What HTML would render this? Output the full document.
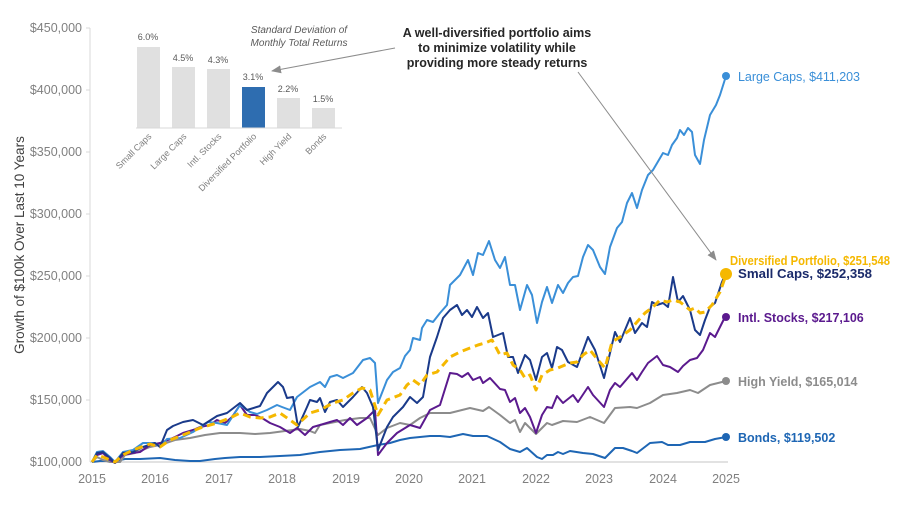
<!DOCTYPE html>
<html><head><meta charset="utf-8"><style>
html,body{margin:0;padding:0;background:#fff;}
svg{display:block;font-family:"Liberation Sans",sans-serif;}
</style></head><body>
<svg width="900" height="505" viewBox="0 0 900 505">
<defs><marker id="ah" markerWidth="10" markerHeight="8" refX="9" refY="4" orient="auto"><path d="M0,0 L10,4 L0,8 z" fill="#8c8c8c"/></marker></defs>
<line x1="90" y1="28" x2="90" y2="462" stroke="#d9d9d9" stroke-width="1"/>
<line x1="90" y1="462" x2="728" y2="462" stroke="#d9d9d9" stroke-width="1.5"/>
<g fill="#808080" font-size="12.5" text-anchor="end">
<text x="82" y="32">$450,000</text><text x="82" y="94">$400,000</text><text x="82" y="156">$350,000</text><text x="82" y="218">$300,000</text><text x="82" y="280">$250,000</text><text x="82" y="342">$200,000</text><text x="82" y="404">$150,000</text><text x="82" y="466">$100,000</text>
</g>
<g stroke="#d9d9d9"><line x1="86" y1="28" x2="90" y2="28"/><line x1="86" y1="90" x2="90" y2="90"/><line x1="86" y1="152" x2="90" y2="152"/><line x1="86" y1="214" x2="90" y2="214"/><line x1="86" y1="276" x2="90" y2="276"/><line x1="86" y1="338" x2="90" y2="338"/><line x1="86" y1="400" x2="90" y2="400"/></g>
<g fill="#808080" font-size="12.5" text-anchor="middle">
<text x="92" y="483">2015</text><text x="155" y="483">2016</text><text x="219" y="483">2017</text><text x="282" y="483">2018</text><text x="346" y="483">2019</text><text x="409" y="483">2020</text><text x="472" y="483">2021</text><text x="536" y="483">2022</text><text x="599" y="483">2023</text><text x="663" y="483">2024</text><text x="726" y="483">2025</text>
</g>
<text transform="translate(24,245) rotate(-90)" text-anchor="middle" font-size="13.5" fill="#404040">Growth of $100k Over Last 10 Years</text>

<g fill="none" stroke-width="2" stroke-linejoin="round">
<polyline stroke="#1e66b4" points="92,462 100,461 115,461 125,459 140,459 160,458 175,460 190,461 200,461 215,459 225,458 240,457 260,457 280,456 300,455 320,452 340,450 360,449 378,445 390,443 400,440 410,438 420,437 430,436 440,436 450,437 463,434 473,436 487,436 500,442 510,449 520,452 527,448 537,457 542,459 547,455 553,455 558,452 563,454 570,451 583,453 593,454 605,458 615,448 623,448 632,451 637,453 650,443 662,442 668,445 680,445 690,442 705,442 715,439 726,437"/>
<polyline stroke="#8c8c8c" points="92,462 97,457 103,460 110,462 120,462 125,455 135,453 150,447 160,445 175,440 190,438 205,435 220,433 240,433 255,434 270,433 285,431 300,429 310,431 315,433 320,425 335,422 345,420 360,418 370,418 378,435 387,428 400,423 410,425 420,418 430,413 440,413 450,413 470,408 483,411 489,407 500,415 510,423 515,420 520,432 525,423 536,434 547,423 552,425 563,421 577,422 590,417 604,423 615,408 630,407 637,408 650,403 663,395 677,393 690,390 698,393 710,385 726,381"/>
<polyline stroke="#5b1a8e" points="92,462 97,455 103,453 110,460 115,463 123,455 133,453 140,452 150,445 160,443 168,440 175,437 183,433 193,430 200,427 210,425 217,420 225,423 232,417 240,405 247,415 255,415 262,418 270,423 280,427 290,433 297,428 305,435 313,427 320,425 330,422 337,420 343,425 350,418 357,425 367,418 375,410 378,455 387,443 397,433 410,425 420,428 430,410 440,405 450,373 457,374 462,377 468,373 473,380 480,377 483,383 490,378 500,389 505,390 510,402 515,398 520,413 525,408 530,417 536,433 542,415 547,407 552,408 557,396 563,403 573,395 578,402 588,387 593,395 604,407 610,390 615,383 620,387 632,373 637,380 642,372 648,363 657,356 663,365 670,367 678,372 683,366 690,360 697,358 703,350 710,333 715,337 725,317"/>
<polyline stroke="#3a8fd8" points="92,462 97,452 103,451 110,457 115,462 123,452 133,450 143,443 155,443 160,447 167,439 180,438 193,432 208,422 217,423 227,425 240,405 250,412 257,414 267,410 277,405 282,407 290,410 297,397 310,387 320,382 325,387 330,377 337,375 343,378 353,373 363,360 370,358 375,363 378,403 387,380 393,372 400,368 405,356 410,350 413,338 420,340 422,328 427,320 433,322 440,313 447,305 450,285 460,275 468,260 473,275 478,253 483,255 489,241 495,260 500,268 505,257 510,285 515,285 520,310 527,285 532,295 537,323 542,302 547,287 552,303 558,285 563,293 568,283 573,277 578,276 583,257 588,245 593,250 600,267 605,274 610,247 617,228 622,222 627,203 632,193 637,208 642,190 648,175 653,170 663,153 668,155 672,145 677,138 680,130 684,135 688,128 692,132 695,155 700,164 704,140 710,115 716,105 720,95 726,76"/>
<polyline stroke="#1a3a8a" points="92,462 97,453 103,452 110,458 115,463 123,453 133,452 143,447 155,443 160,447 167,430 173,426 183,422 193,420 203,425 217,416 227,413 240,403 247,410 260,406 267,393 278,382 283,387 287,398 293,397 298,427 307,407 310,400 317,402 320,398 325,412 330,402 337,400 343,407 353,397 362,387 367,393 373,407 378,450 387,427 393,417 403,407 410,397 417,403 423,397 430,357 437,337 443,318 450,310 457,305 462,315 467,310 472,317 477,307 483,318 488,313 493,337 503,333 508,357 513,357 518,373 525,355 530,360 536,380 542,357 547,353 552,368 557,347 562,350 568,362 577,367 588,337 595,350 604,378 610,353 615,332 620,342 630,318 635,333 642,323 647,327 652,302 657,305 663,303 668,307 673,277 678,302 683,296 690,310 695,330 700,335 705,320 710,307 715,303 722,282 726,273"/>
<polyline stroke="#f5b800" stroke-width="3" stroke-dasharray="8,5" points="92,462 97,455 103,457 110,460 115,462 123,455 133,450 150,444 160,447 170,440 183,435 200,428 217,423 230,418 240,413 250,417 260,418 270,417 280,413 290,420 297,425 310,413 320,410 333,403 343,400 353,393 362,388 370,390 378,415 387,400 400,395 407,385 413,380 420,385 427,375 437,372 450,357 460,352 470,348 478,345 485,343 492,340 500,355 507,353 513,365 520,370 525,378 530,375 536,390 542,375 550,370 558,368 565,365 570,363 577,362 583,355 590,350 598,360 605,368 612,342 620,337 630,330 637,322 645,313 653,307 660,300 667,302 673,300 680,302 690,310 695,308 700,313 705,312 712,305 720,292 726,275"/>
</g>
<circle cx="726" cy="76" r="4" fill="#3a8fd8"/>
<circle cx="726" cy="274" r="6" fill="#f5b800"/>
<circle cx="726" cy="317" r="4" fill="#5b1a8e"/>
<circle cx="726" cy="381" r="4" fill="#8c8c8c"/>
<circle cx="726" cy="437" r="4" fill="#1e66b4"/>

<g font-size="12.5" font-weight="bold">
<text x="738" y="81" fill="#3a8fd8" font-weight="normal" textLength="122">Large Caps, $411,203</text>
<text x="730" y="265" fill="#f5b800" textLength="160" lengthAdjust="spacingAndGlyphs">Diversified Portfolio, $251,548</text>
<text x="738" y="278" fill="#1a2a6a" textLength="134" lengthAdjust="spacingAndGlyphs">Small Caps, $252,358</text>
<text x="738" y="322" fill="#5b1a8e">Intl. Stocks, $217,106</text>
<text x="738" y="386" fill="#8c8c8c">High Yield, $165,014</text>
<text x="738" y="442" fill="#1e66b4">Bonds, $119,502</text>
</g>

<g font-size="12.5" font-weight="bold" fill="#262626" text-anchor="middle">
<text x="497" y="37">A well-diversified portfolio aims</text>
<text x="497" y="52">to minimize volatility while</text>
<text x="497" y="67">providing more steady returns</text>
</g>
<line x1="578" y1="72" x2="716" y2="260" stroke="#8c8c8c" stroke-width="1" marker-end="url(#ah)"/>
<line x1="395" y1="48" x2="272" y2="71" stroke="#8c8c8c" stroke-width="1" marker-end="url(#ah)"/>

<g fill="#e0e0e0">
<rect x="137" y="47" width="23" height="81"/>
<rect x="172" y="67" width="23" height="61"/>
<rect x="207" y="69" width="23" height="59"/>
<rect x="277" y="98" width="23" height="30"/>
<rect x="312" y="108" width="23" height="20"/>
</g>
<rect x="242" y="87" width="23" height="41" fill="#2e6db0"/>
<line x1="136" y1="128" x2="342" y2="128" stroke="#d9d9d9" stroke-width="1"/>
<g font-size="9" fill="#595959" text-anchor="middle">
<text x="148" y="40">6.0%</text><text x="183" y="61">4.5%</text><text x="218" y="63">4.3%</text><text x="253" y="80">3.1%</text><text x="288" y="92">2.2%</text><text x="323" y="102">1.5%</text>
</g>
<g font-size="9" fill="#7f7f7f" text-anchor="end">
<text transform="translate(152,137) rotate(-45)">Small Caps</text>
<text transform="translate(187,137) rotate(-45)">Large Caps</text>
<text transform="translate(222,137) rotate(-45)">Intl. Stocks</text>
<text transform="translate(257,137) rotate(-45)">Diversified Portfolio</text>
<text transform="translate(292,137) rotate(-45)">High Yield</text>
<text transform="translate(327,137) rotate(-45)">Bonds</text>
</g>
<g font-size="10" font-style="italic" fill="#595959" text-anchor="middle">
<text x="299" y="33">Standard Deviation of</text>
<text x="299" y="46">Monthly Total Returns</text>
</g>
</svg>
</body></html>
